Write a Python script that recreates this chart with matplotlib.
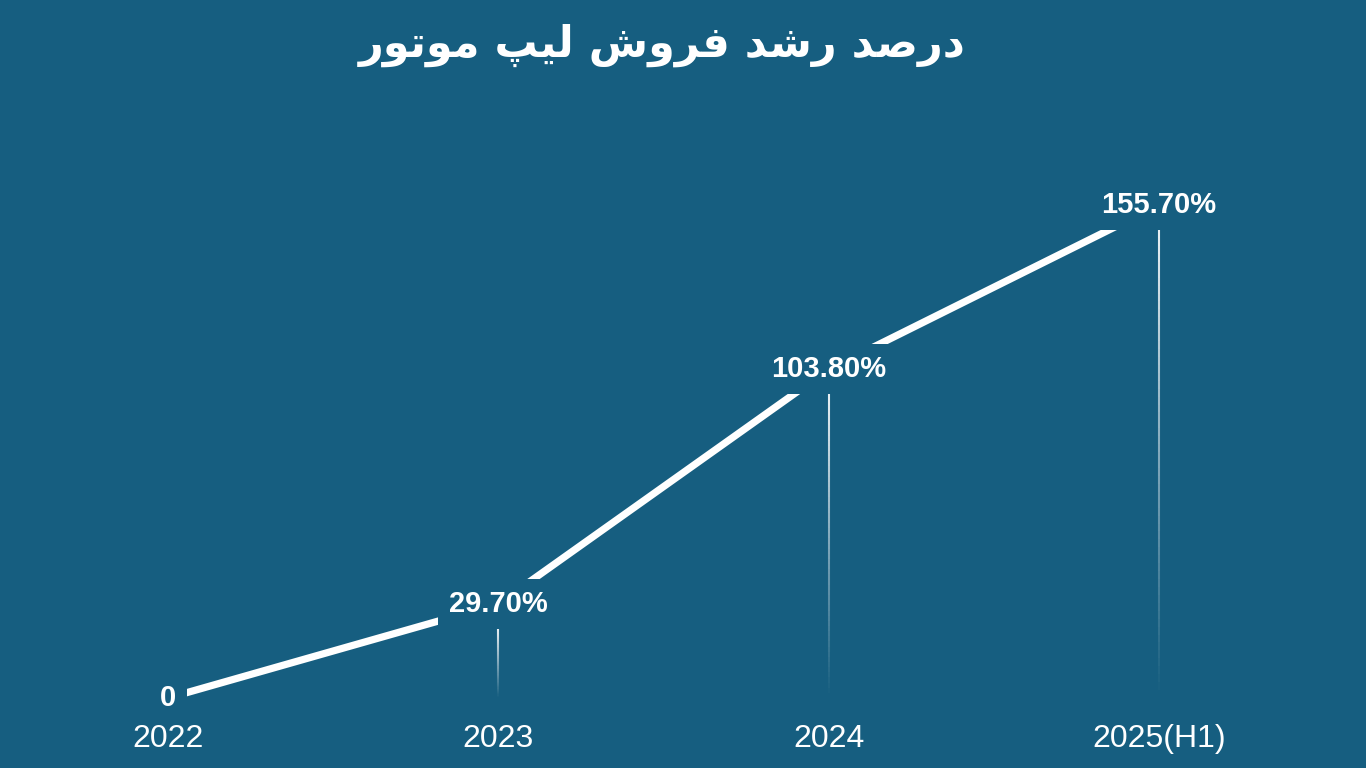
import matplotlib
matplotlib.use("Agg")
import matplotlib.pyplot as plt
import matplotlib.transforms as mtransforms
from matplotlib.collections import LineCollection
import numpy as np

# ---- data ----
categories = ["2022", "2023", "2024", "2025(H1)"]
growth = [0, 29.7, 103.8, 155.7]
value_labels = ["0", "29.70%", "103.80%", "155.70%"]
# Title "درصد رشد فروش لیپ موتور" written in Arabic presentation forms, visual order
title_text = ("\uFEAD\uFEEE\uFE97\uFEEE\uFEE3 "   # موتور
              "\uFB57\uFBFF\uFEDF "                # لیپ
              "\uFEB5\uFEED\uFEAE\uFED3 "          # فروش
              "\uFEAA\uFEB7\uFEAD "                # رشد
              "\uFEAA\uFEBB\uFEAD\uFEA9")          # درصد

BG = "#165E80"
W, H = 1366, 768
fig = plt.figure(figsize=(W / 100, H / 100), dpi=100, facecolor=BG)

B, T = 62, 700
ZERO = 70
ax = fig.add_axes([0, B / H, 1, (T - B) / H])
ax.set_facecolor(BG)
pxu = 3.166
ax.set_ylim((B - ZERO) / pxu, (T - ZERO) / pxu)
x = np.arange(len(categories))
ax.set_xlim(-168 / 330.33, (W - 168) / 330.33)

ax.plot(x, growth, color="white", lw=5.2, solid_capstyle="butt", zorder=2)

for xi, v, lab in zip(x, growth, value_labels):
    ax.text(xi, v, lab, ha="center", va="center", color="white",
            fontsize=21, fontweight="bold", family="Liberation Sans", zorder=4,
            bbox=dict(boxstyle="square,pad=0.38", fc=BG, ec="none"))

# fading vertical drop lines
for xi, v in zip(x[1:], growth[1:]):
    trans = mtransforms.offset_copy(ax.transData, fig=fig, x=0, y=-18, units="points")
    start = ax.transData.inverted().transform(trans.transform((xi, v)))[1]
    ys = np.linspace(start, 0, 60)
    segs = [[(xi, ys[i]), (xi, ys[i + 1])] for i in range(len(ys) - 1)]
    alphas = np.linspace(0.9, 0.0, len(segs))
    cols = [(1, 1, 1, a) for a in alphas]
    ax.add_collection(LineCollection(segs, colors=cols, linewidths=1.5, zorder=1))

ax.set_xticks(x)
ax.set_xticklabels(categories, fontsize=23, color="white", family="Liberation Sans")
ax.tick_params(axis="x", length=0, pad=13)
ax.set_yticks([])
for s in ax.spines.values():
    s.set_visible(False)

fig.text(662.5 / W, 1 - 45 / H, title_text, ha="center", va="center", color="white",
         fontsize=31, fontweight="bold", family=["DejaVu Sans"])

fig.savefig("out.png", dpi=100, facecolor=BG)
